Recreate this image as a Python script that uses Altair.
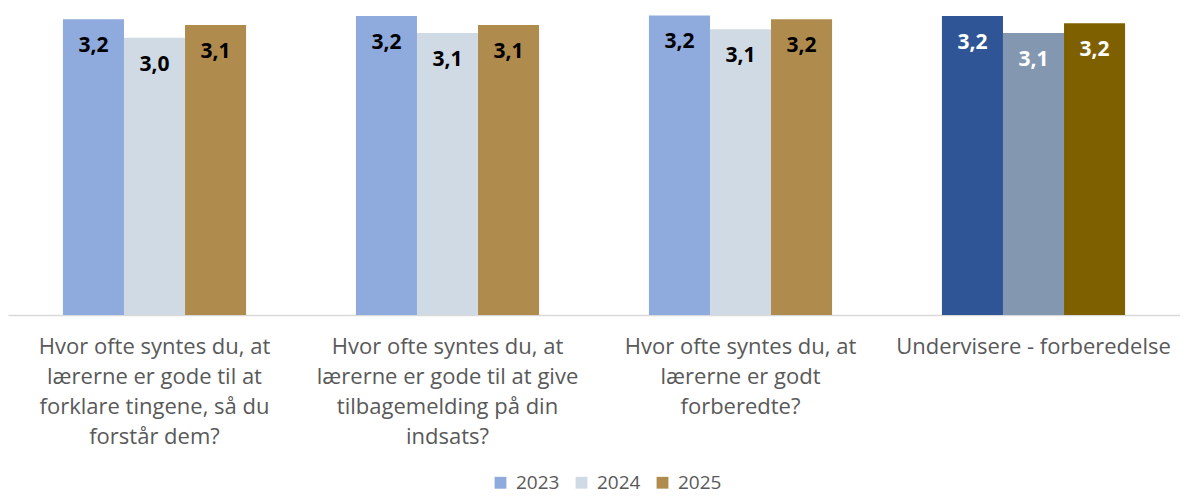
import altair as alt
import pandas as pd

categories = [
    "Hvor ofte syntes du, at\nlærerne er gode til at\nforklare tingene, så du\nforstår dem?",
    "Hvor ofte syntes du, at\nlærerne er gode til at give\ntilbagemelding på din\nindsats?",
    "Hvor ofte syntes du, at\nlærerne er godt\nforberedte?",
    "Undervisere - forberedelse",
]
years = ["2023", "2024", "2025"]
v2023 = [3.207, 3.243, 3.249, 3.243]
v2024 = [3.008, 3.06, 3.099, 3.06]
v2025 = [3.145, 3.145, 3.207, 3.164]

color_keys = ["2023", "2024", "2025", "2023 samlet", "2024 samlet", "2025 samlet"]
color_range = ["#8FAADC", "#CFDAE4", "#B08B4E", "#2F5597", "#8497B0", "#7F6000"]

rows = []
for i, c in enumerate(categories):
    for y, vals in zip(years, [v2023, v2024, v2025]):
        last = i == len(categories) - 1
        rows.append({
            "kategori": c,
            "år": y,
            "værdi": vals[i],
            "farve": y + " samlet" if last else y,
            "tekstfarve": "#FFFFFF" if last else "#000000",
        })
df = pd.DataFrame(rows)

FONT = "Open Sans"

base = alt.Chart(df).encode(
    x=alt.X(
        "kategori:N",
        sort=categories,
        title=None,
        scale=alt.Scale(paddingInner=0.375, paddingOuter=0.1875),
        axis=alt.Axis(
            labelExpr="split(datum.label, '\\n')",
            labelAngle=0,
            labelAlign="center",
            labelBaseline="top",
            labelFont=FONT,
            labelFontSize=22,
            labelLineHeight=30,
            labelColor="#595959",
            labelPadding=21,
            labelLimit=400,
            ticks=False,
            domainColor="#D9D9D9",
            domainWidth=1.5,
        ),
    ),
    xOffset=alt.XOffset("år:N", sort=years, scale=alt.Scale(paddingInner=0, paddingOuter=0)),
    y=alt.Y("værdi:Q", scale=alt.Scale(domain=[0, 3.33], nice=False, zero=True), axis=None),
)

bars = base.mark_bar().encode(
    color=alt.Color(
        "farve:N",
        scale=alt.Scale(domain=color_keys, range=color_range),
        legend=alt.Legend(
            values=years,
            title=None,
            orient="none",
            direction="horizontal",
            legendX=483,
            legendY=465,
            symbolType="square",
            symbolSize=140,
            symbolStrokeWidth=0,
            labelFont=FONT,
            labelFontSize=19,
            labelColor="#595959",
            labelOffset=6,
            columnPadding=12,
        ),
    )
)

labels = base.mark_text(
    baseline="middle", align="center", dy=27, font=FONT, fontSize=21, fontWeight="bold"
).transform_calculate(
    tekst="replace(format(datum['værdi'], '.1f'), '.', ',')"
).encode(
    text="tekst:N",
    color=alt.Color("tekstfarve:N", scale=None),
)

chart = (
    alt.layer(bars, labels)
    .properties(width=1172, height=307, padding={"left": 0, "top": 0, "right": 0, "bottom": 5})
    .configure_view(stroke=None)
)

chart.save("out.html", embed_options={"renderer": "svg", "actions": False})
